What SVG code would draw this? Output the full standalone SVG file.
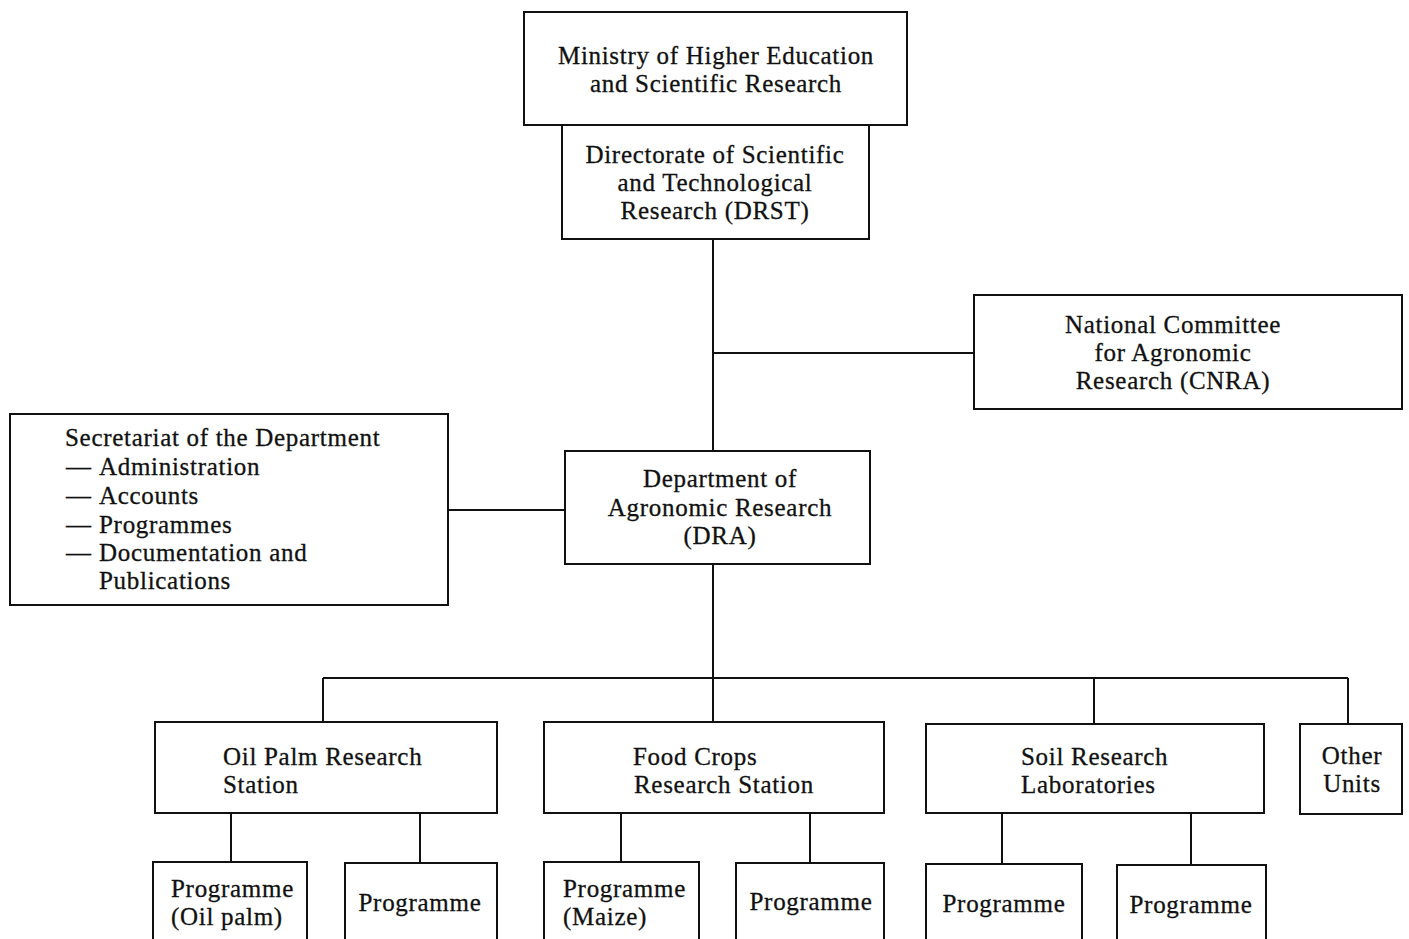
<svg xmlns="http://www.w3.org/2000/svg" width="1409" height="939" viewBox="0 0 1409 939">
<style>
rect{fill:#fff;stroke:#111;stroke-width:2}
.c line{stroke:#111;stroke-width:2}
text{font-family:"Liberation Serif","Times New Roman",serif;font-size:25px;fill:#111;letter-spacing:0.7px;stroke:#111;stroke-width:0.3px}
.m{text-anchor:middle}
</style>
<rect x="0" y="0" width="1409" height="939" style="stroke:none"/>
<g class="c" id="connectors">
<line x1="713" y1="239" x2="713" y2="451"/>
<line x1="713" y1="353" x2="974" y2="353"/>
<line x1="448" y1="510" x2="565" y2="510"/>
<line x1="713" y1="564" x2="713" y2="678"/>
<line x1="323" y1="678" x2="1348" y2="678"/>
<line x1="323" y1="678" x2="323" y2="722"/>
<line x1="713" y1="678" x2="713" y2="722"/>
<line x1="1094" y1="678" x2="1094" y2="724"/>
<line x1="1348" y1="678" x2="1348" y2="724"/>
<line x1="231" y1="813" x2="231" y2="862"/>
<line x1="420" y1="813" x2="420" y2="863"/>
<line x1="621" y1="813" x2="621" y2="862"/>
<line x1="810" y1="813" x2="810" y2="863"/>
<line x1="1002" y1="813" x2="1002" y2="864"/>
<line x1="1191" y1="813" x2="1191" y2="865"/>
</g>
<g id="ministry">
<rect x="524" y="12" width="383" height="113"/>
<text class="m" x="716" y="64">Ministry of Higher Education</text>
<text class="m" x="716" y="92">and Scientific Research</text>
</g>
<g id="drst">
<rect x="562" y="125" width="307" height="114"/>
<text class="m" x="715" y="163">Directorate of Scientific</text>
<text class="m" x="715" y="191">and Technological</text>
<text class="m" x="715" y="219">Research (DRST)</text>
</g>
<g id="cnra">
<rect x="974" y="295" width="428" height="114"/>
<text class="m" x="1173" y="333">National Committee</text>
<text class="m" x="1173" y="361">for Agronomic</text>
<text class="m" x="1173" y="389">Research (CNRA)</text>
</g>
<g id="secretariat">
<rect x="10" y="414" width="438" height="191"/>
<text x="65" y="446">Secretariat of the Department</text>
<text x="66" y="475">—<tspan x="99">Administration</tspan></text>
<text x="66" y="504">—<tspan x="99">Accounts</tspan></text>
<text x="66" y="533">—<tspan x="99">Programmes</tspan></text>
<text x="66" y="561">—<tspan x="99">Documentation and</tspan></text>
<text x="99" y="589">Publications</text>
</g>
<g id="dra">
<rect x="565" y="451" width="305" height="113"/>
<text class="m" x="720" y="487">Department of</text>
<text class="m" x="720" y="516">Agronomic Research</text>
<text class="m" x="720" y="544">(DRA)</text>
</g>
<g id="oilpalm">
<rect x="155" y="722" width="342" height="91"/>
<text x="223" y="765">Oil Palm Research</text>
<text x="223" y="793">Station</text>
</g>
<g id="foodcrops">
<rect x="544" y="722" width="340" height="91"/>
<text x="633" y="765">Food Crops</text>
<text x="634" y="793">Research Station</text>
</g>
<g id="soil">
<rect x="926" y="724" width="338" height="89"/>
<text x="1021" y="765">Soil Research</text>
<text x="1021" y="793">Laboratories</text>
</g>
<g id="otherunits">
<rect x="1300" y="724" width="102" height="90"/>
<text class="m" x="1352" y="764">Other</text>
<text class="m" x="1352" y="792">Units</text>
</g>
<g id="prog-oilpalm">
<rect x="153" y="862" width="154" height="100"/>
<text x="171" y="897">Programme</text>
<text x="171" y="925">(Oil palm)</text>
</g>
<g id="prog-2">
<rect x="345" y="863" width="152" height="100"/>
<text class="m" x="420" y="911">Programme</text>
</g>
<g id="prog-maize">
<rect x="544" y="862" width="155" height="100"/>
<text x="563" y="897">Programme</text>
<text x="563" y="925">(Maize)</text>
</g>
<g id="prog-4">
<rect x="736" y="863" width="148" height="100"/>
<text class="m" x="811" y="910">Programme</text>
</g>
<g id="prog-5">
<rect x="926" y="864" width="156" height="100"/>
<text class="m" x="1004" y="912">Programme</text>
</g>
<g id="prog-6">
<rect x="1117" y="865" width="149" height="100"/>
<text class="m" x="1191" y="913">Programme</text>
</g>
</svg>
